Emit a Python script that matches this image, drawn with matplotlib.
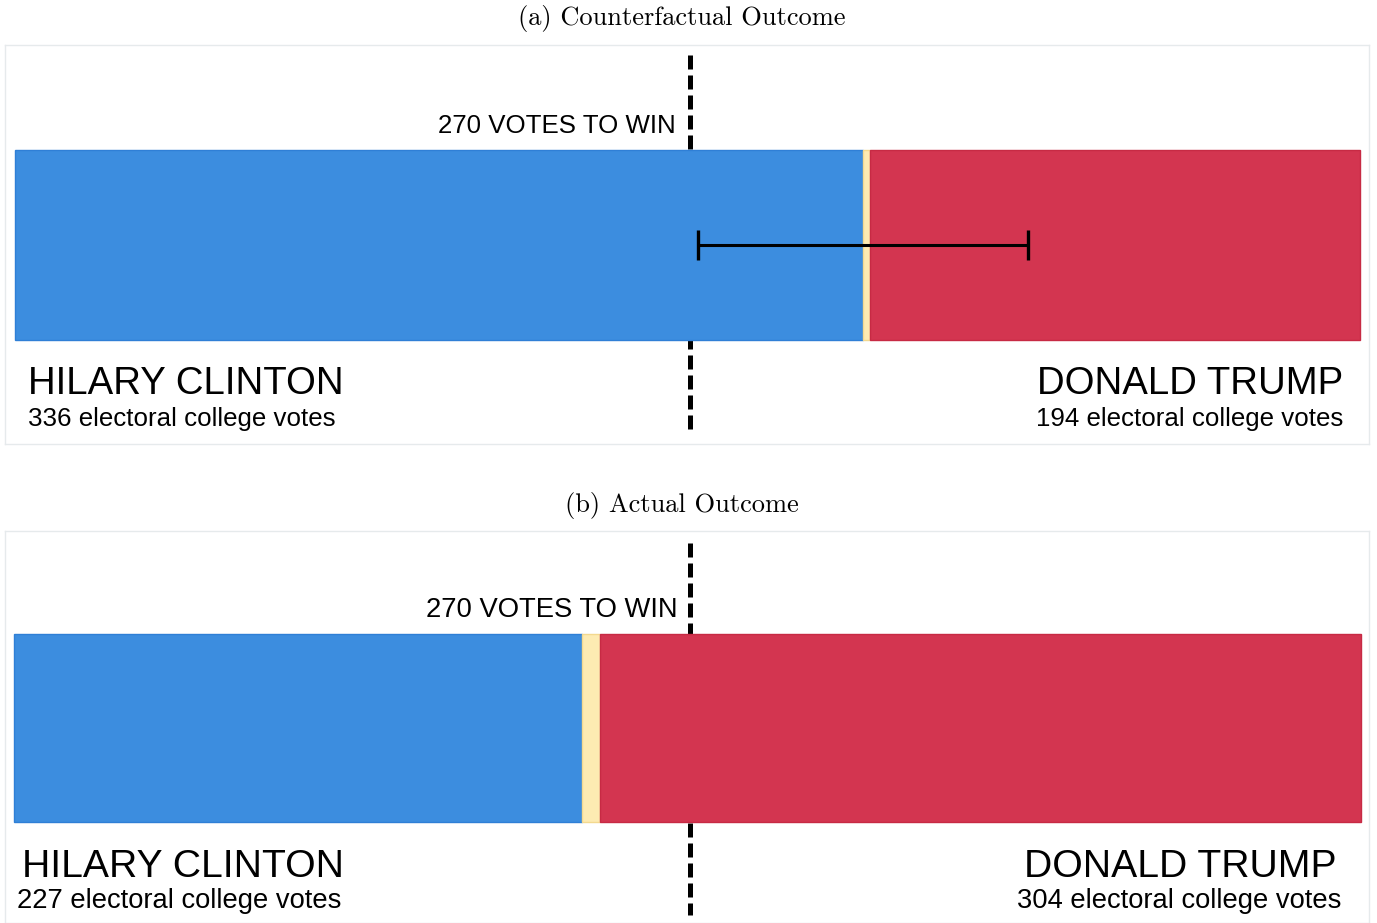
import matplotlib
matplotlib.use("Agg")
import matplotlib.pyplot as plt

# ---- data ----
panel_titles = ["(a) Counterfactual Outcome", "(b) Actual Outcome"]
clinton_bar = [339, 227]
other_bar = [3, 7]
trump_bar = [196, 304]
clinton_label = [336, 227]
trump_label = [194, 304]
win_threshold = 270
total_votes = 538
err_low = [273, None]
err_high = [405, None]

W, H = 1377, 923
fig = plt.figure(figsize=(W / 100, H / 100), dpi=100)
fig.patch.set_facecolor("white")

BLUE, BLUE_E = "#3c8ddf", "#2f7fd6"
RED, RED_E = "#d33550", "#c72a44"
YEL, YEL_E = "#fdebb2", "#f3d98f"
SANS = ["Liberation Sans", "DejaVu Sans"]

# layout (pixels)
layouts = [
    dict(box=(5, 1369, 45, 444), bar=(15, 1360, 150, 340), dash=(55, 435),
         title_y=25, win=(676, 133), name_y=394, sub_y=426,
         cl_x=(28, 28), tr_x=(1343, 1343), fs_name=27.6, fs_sub=18.6, fs_win=18.6),
    dict(box=(5, 1369, 531, 923), bar=(14, 1361, 634, 822), dash=(543, 915),
         title_y=512, win=(678, 617), name_y=877, sub_y=908,
         cl_x=(22, 17), tr_x=(1337, 1341), fs_name=28.2, fs_sub=19.7, fs_win=19.7),
]

def fx(px):
    return px / W

def fy(py):
    return 1 - py / H

for i, L in enumerate(layouts):
    bl, br, bt, bb = L["box"]
    xl, xr, yt, yb = L["bar"]
    ax = fig.add_axes([fx(bl), fy(bb), (br - bl) / W, (bb - bt) / H])
    ppv = (xr - xl) / total_votes
    ax.set_xlim(-(xl - bl) / ppv, total_votes + (br - xr) / ppv)
    ax.set_ylim(bb - bt, 0)  # pixel units from panel top, downward
    yc = (yt + yb) / 2 - bt
    hh = yb - yt
    ax.barh(yc, clinton_bar[i], height=hh, left=0, color=BLUE,
            edgecolor=BLUE_E, linewidth=1, zorder=3)
    ax.barh(yc, other_bar[i], height=hh, left=clinton_bar[i], color=YEL,
            edgecolor=YEL_E, linewidth=1, zorder=3)
    ax.barh(yc, trump_bar[i], height=hh, left=clinton_bar[i] + other_bar[i],
            color=RED, edgecolor=RED_E, linewidth=1, zorder=3)
    d0, d1 = L["dash"]
    ax.plot([win_threshold, win_threshold], [d0 - bt, d1 - bt], color="black",
            linewidth=3.6, linestyle=(0, (2.8, 1.2)), zorder=2,
            solid_capstyle="butt", dash_capstyle="butt")
    if err_low[i] is not None:
        ax.errorbar([(err_low[i] + err_high[i]) / 2], [yc],
                    xerr=[[(err_high[i] - err_low[i]) / 2]],
                    fmt="none", ecolor="black", elinewidth=2.2,
                    capsize=11, capthick=2.4, zorder=5)
    ax.set_xticks([])
    ax.set_yticks([])
    for s in ax.spines.values():
        s.set_color("#e6eaec")
        s.set_linewidth(1)

    fig.text(0.5 * (1 + 0 / W) - 0.5 + fx(682), fy(L["title_y"]), panel_titles[i],
             ha="center", va="baseline", fontsize=19, family="cmr10")
    wx, wy = L["win"]
    fig.text(fx(wx), fy(wy), f"{win_threshold} VOTES TO WIN", ha="right",
             va="baseline", fontsize=L["fs_win"], family=SANS)
    fig.text(fx(L["cl_x"][0]), fy(L["name_y"]), "HILARY CLINTON", ha="left",
             va="baseline", fontsize=L["fs_name"], family=SANS)
    fig.text(fx(L["cl_x"][1]), fy(L["sub_y"]),
             f"{clinton_label[i]} electoral college votes", ha="left",
             va="baseline", fontsize=L["fs_sub"], family=SANS)
    fig.text(fx(L["tr_x"][0]), fy(L["name_y"]), "DONALD TRUMP", ha="right",
             va="baseline", fontsize=L["fs_name"], family=SANS)
    fig.text(fx(L["tr_x"][1]), fy(L["sub_y"]),
             f"{trump_label[i]} electoral college votes", ha="right",
             va="baseline", fontsize=L["fs_sub"], family=SANS)

fig.savefig("out.png", dpi=100)
